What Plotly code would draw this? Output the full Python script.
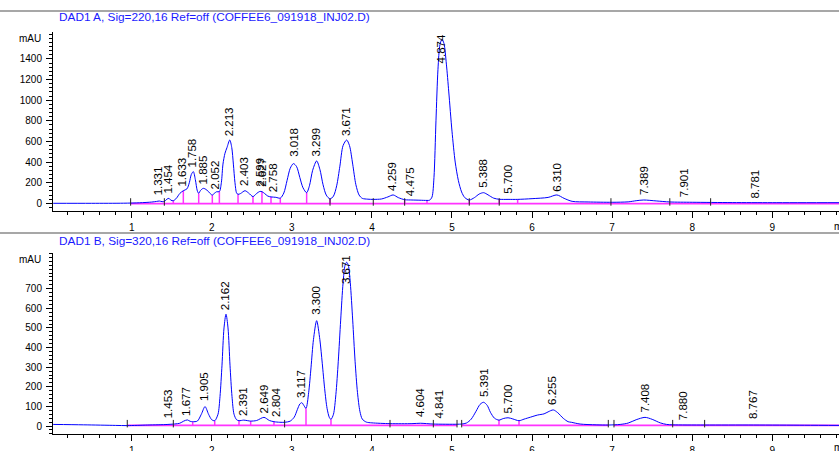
import plotly.graph_objects as go

W, H = 839, 451

# ---------------- DAD1 A, Sig=220 nm ----------------
a_time = [0.02, 0.50, 0.90, 1.10, 1.25, 1.31, 1.345, 1.38, 1.41, 1.44, 1.465, 1.49, 1.52, 1.56, 1.60,
          1.645, 1.69, 1.72, 1.745, 1.77, 1.795, 1.82, 1.837, 1.86, 1.895, 1.94, 1.98, 2.007, 2.03,
          2.06, 2.095, 2.12, 2.14, 2.165, 2.19, 2.225, 2.25, 2.27, 2.29, 2.31, 2.328, 2.36, 2.415,
          2.46, 2.515, 2.56, 2.60, 2.627, 2.66, 2.70, 2.74, 2.80, 2.856, 2.90, 2.94, 2.98, 3.02,
          3.06, 3.10, 3.14, 3.185, 3.22, 3.26, 3.31, 3.35, 3.39, 3.43, 3.477, 3.52, 3.56, 3.60,
          3.64, 3.685, 3.72, 3.76, 3.80, 3.84, 3.88, 3.95, 4.017, 4.12, 4.20, 4.265, 4.33, 4.409,
          4.50, 4.60, 4.688, 4.72, 4.75, 4.775, 4.80, 4.825, 4.85, 4.875, 4.90, 4.93, 4.96, 5.00,
          5.04, 5.08, 5.12, 5.16, 5.216, 5.28, 5.34, 5.395, 5.45, 5.52, 5.59, 5.70, 5.82, 6.00,
          6.20, 6.31, 6.40, 6.50, 6.70, 7.00, 7.20, 7.30, 7.395, 7.55, 7.72, 8.00, 8.50, 9.00, 9.85]
a_mau = [0, 0, 1, 5, 12, 18, 22, 16, 18, 40, 48, 30, 25, 50, 95,
         122, 140, 200, 280, 307, 230, 120, 97, 125, 145, 128, 95, 80, 95,
         112, 113, 200, 380, 485, 540, 614, 540, 380, 200, 100, 87, 95, 122,
         100, 65, 95, 115, 113, 95, 70, 62, 58, 50, 100, 220, 340, 385,
         355, 250, 150, 103, 170, 320, 411, 330, 180, 80, 42, 70, 170, 360,
         560, 614, 560, 380, 180, 80, 48, 40, 38, 42, 62, 81, 55, 35,
         32, 30, 28, 30, 60, 250, 800, 1300, 1540, 1590, 1550, 1350, 1080, 700,
         400, 220, 110, 55, 32, 55, 90, 103, 82, 50, 39, 38, 38, 45,
         57, 81, 48, 19, 13, 10, 14, 25, 32, 23, 13, 10, 7, 6, 6]

a_peak_rt = [1.331, 1.454, 1.633, 1.758, 1.885, 2.052, 2.213, 2.403, 2.599, 2.627, 2.758, 3.018,
             3.299, 3.671, 4.259, 4.475, 4.874, 5.388, 5.700, 6.310, 7.389, 7.901, 8.781]
a_peak_lbl = ["1.331", "1.454", "1.633", "1.758", "1.885", "2.052", "2.213", "2.403", "2.599", "2.627",
              "2.758", "3.018", "3.299", "3.671", "4.259", "4.475", "4.874", "5.388", "5.700", "6.310",
              "7.389", "7.901", "8.781"]
a_peak_h = [35, 51, 122, 307, 145, 100, 614, 125, 125, 125, 68, 410,
            417, 614, 83, 35, 1590, 107, 50, 76, 40, 19, 10]

a_drop_t = [1.52, 1.645, 1.837, 2.007, 2.095, 2.328, 2.515, 2.627, 2.74, 2.856, 3.185, 3.477,
            4.409, 4.688, 5.216, 5.59, 5.82]
a_drop_h = [25, 122, 97, 80, 113, 87, 65, 113, 62, 50, 103, 42, 35, 28, 32, 39, 38]
a_event_t = [0.987, 1.408, 3.477, 4.017, 4.409, 5.216, 5.59, 6.985, 7.72, 8.23]
a_base_seg = [(0.987, 9.85)]
a_base_level = -4
a_yticks = [0, 200, 400, 600, 800, 1000, 1200, 1400]

# ---------------- DAD1 B, Sig=320 nm ----------------
b_time = [0.02, 0.40, 0.80, 0.945, 1.20, 1.453, 1.60, 1.65, 1.695, 1.73, 1.762, 1.82, 1.87, 1.916,
          1.96, 2.00, 2.037, 2.078, 2.103, 2.128, 2.153, 2.178, 2.203, 2.228, 2.253, 2.278, 2.31,
          2.34, 2.40, 2.45, 2.486, 2.56, 2.652, 2.72, 2.777, 2.85, 2.91, 2.98, 3.03, 3.07, 3.10,
          3.125, 3.15, 3.177, 3.21, 3.24, 3.27, 3.31, 3.35, 3.38, 3.41, 3.44, 3.47, 3.489, 3.52,
          3.55, 3.58, 3.61, 3.64, 3.665, 3.685, 3.705, 3.73, 3.76, 3.79, 3.82, 3.85, 3.88, 3.93,
          4.00, 4.226, 4.50, 4.604, 4.767, 5.063, 5.121, 5.18, 5.24, 5.30, 5.35, 5.395, 5.44, 5.48,
          5.53, 5.587, 5.64, 5.70, 5.76, 5.837, 5.90, 5.98, 6.07, 6.15, 6.20, 6.265, 6.32, 6.39,
          6.45, 6.49, 6.60, 6.80, 6.952, 7.10, 7.20, 7.30, 7.41, 7.50, 7.60, 7.68, 7.756, 8.155,
          8.767, 9.40, 9.85]
b_mau = [8, 6, 3, 2, 5, 8, 14, 25, 31, 24, 22, 25, 60, 99,
         60, 32, 27, 60, 150, 310, 500, 570, 500, 310, 150, 60, 32,
         27, 30, 27, 25, 28, 44, 28, 22, 19, 19, 25, 45, 85, 112,
         119, 105, 90, 170, 300, 440, 537, 440, 320, 190, 90, 42, 34, 60,
         160, 330, 540, 730, 820, 835, 820, 730, 540, 330, 170, 75, 35, 20,
         16, 12, 12, 14, 10, 9, 10, 15, 35, 75, 110, 121, 105, 70,
         40, 30, 38, 42, 36, 27, 35, 45, 56, 62, 72, 82, 68, 39,
         22, 19, 10, 6, 5, 8, 15, 32, 44, 34, 16, 8, 6, 5,
         5, 4, 3]

b_peak_rt = [1.453, 1.677, 1.905, 2.162, 2.391, 2.649, 2.804, 3.117, 3.300, 3.671, 4.604, 4.841,
             5.391, 5.700, 6.255, 7.408, 7.880, 8.767]
b_peak_lbl = ["1.453", "1.677", "1.905", "2.162", "2.391", "2.649", "2.804", "3.117", "3.300", "3.671",
              "4.604", "4.841", "5.391", "5.700", "6.255", "7.408", "7.880", "8.767"]
b_peak_h = [21, 33, 105, 571, 28, 45, 24, 123, 548, 835, 24, 16, 126, 41, 87, 50, 10, 16]

b_drop_t = [1.762, 2.037, 2.34, 2.486, 2.777, 3.177, 3.489, 5.587, 5.837]
b_drop_h = [22, 27, 27, 25, 22, 90, 34, 30, 27]
b_event_t = [0.945, 1.52, 2.91, 4.226, 4.767, 5.063, 5.121, 6.952, 7.023, 7.756, 8.155]
b_base_seg = [(0.945, 5.063), (5.121, 6.952), (7.023, 9.85)]
b_base_level = 3
b_yticks = [0, 100, 200, 300, 400, 500, 600, 700]

titles = ["DAD1 A, Sig=220,16 Ref=off (COFFEE6_091918_INJ02.D)",
          "DAD1 B, Sig=320,16 Ref=off (COFFEE6_091918_INJ02.D)"]
x_ticks = [1, 2, 3, 4, 5, 6, 7, 8, 9]

# ---------------- layout geometry (pixels) ----------------
FONT = "Arial, 'Liberation Sans', sans-serif"
X_RANGE = [0.0175, 9.833]
X_DOMAIN = [53 / W, 1.0]
panels = [
    dict(yr=[-74.7, 1661.6], dom=[1 - 211 / H, 1 - 32 / H], minor=40, title_py=17, mau_py=38.5,
         sep_py=11, min_py=226),
    dict(yr=[-42.3, 882.0], dom=[1 - 434.3 / H, 1 - 253 / H], minor=20, title_py=241, mau_py=259,
         sep_py=233, min_py=447.7),
]

BLUE = "#0000ff"
MAG = "#ff33ff"

fig = go.Figure()
annotations = []
shapes = []

data = [
    (a_time, a_mau, a_peak_rt, a_peak_lbl, a_peak_h, a_drop_t, a_drop_h, a_event_t, a_base_seg, a_base_level, a_yticks),
    (b_time, b_mau, b_peak_rt, b_peak_lbl, b_peak_h, b_drop_t, b_drop_h, b_event_t, b_base_seg, b_base_level, b_yticks),
]

for i, (t, v, prt, plbl, ph, dt, dh, et, segs, blev, yticks) in enumerate(data):
    p = panels[i]
    xa = "x" if i == 0 else "x2"
    ya = "y" if i == 0 else "y2"
    upp = (p["yr"][1] - p["yr"][0]) / ((p["dom"][1] - p["dom"][0]) * H)  # data units per pixel

    # baseline segments
    bx, by = [], []
    for s0, s1 in segs:
        bx += [s0, s1, None]
        by += [blev, blev, None]
    fig.add_trace(go.Scatter(x=bx, y=by, mode="lines", line=dict(color=MAG, width=1.8),
                             xaxis=xa, yaxis=ya, hoverinfo="skip"))
    # drop lines
    dx, dy = [], []
    for tt, hh in zip(dt, dh):
        dx += [tt, tt, None]
        dy += [blev, hh, None]
    fig.add_trace(go.Scatter(x=dx, y=dy, mode="lines", line=dict(color=MAG, width=1.5),
                             xaxis=xa, yaxis=ya, hoverinfo="skip"))
    # signal
    fig.add_trace(go.Scatter(x=t, y=v, mode="lines", line=dict(color=BLUE, width=1, shape="spline", smoothing=0.8),
                             xaxis=xa, yaxis=ya, hoverinfo="skip"))
    # integration event ticks
    ex, ey = [], []
    for tt in et:
        ex += [tt, tt, None]
        ey += [blev - 2 * upp, blev + 5.5 * upp, None]
    fig.add_trace(go.Scatter(x=ex, y=ey, mode="lines", line=dict(color="#222222", width=1),
                             xaxis=xa, yaxis=ya, hoverinfo="skip"))

    # peak labels
    label_px = 31
    for rt, lbl, hh in zip(prt, plbl, ph):
        if hh + (label_px + 3) * upp > p["yr"][1]:
            annotations.append(dict(x=rt, y=p["yr"][1], xref=xa, yref=ya, text=lbl, showarrow=False,
                                    textangle=-90, xanchor="center", yanchor="top",
                                    font=dict(family=FONT, size=11.5, color="black")))
        else:
            annotations.append(dict(x=rt, y=hh, xref=xa, yref=ya, text=lbl, showarrow=False,
                                    textangle=-90, xanchor="center", yanchor="bottom", yshift=2,
                                    font=dict(family=FONT, size=11.5, color="black")))

    # title, unit label, "min"
    annotations.append(dict(x=57 / W, y=1 - p["title_py"] / H, xref="paper", yref="paper", text=titles[i],
                            showarrow=False, xanchor="left", yanchor="middle",
                            font=dict(family=FONT, size=11.8, color="#1a1aff")))
    annotations.append(dict(x=43 / W, y=1 - p["mau_py"] / H, xref="paper", yref="paper", text="mAU",
                            showarrow=False, xanchor="right", yanchor="middle",
                            font=dict(family=FONT, size=10, color="black")))
    annotations.append(dict(x=832 / W, y=1 - p["min_py"] / H, xref="paper", yref="paper", text="min",
                            showarrow=False, xanchor="left", yanchor="middle",
                            font=dict(family=FONT, size=10, color="black")))
    shapes.append(dict(type="line", xref="paper", yref="paper", x0=0, x1=1,
                       y0=1 - p["sep_py"] / H, y1=1 - p["sep_py"] / H,
                       line=dict(color="#8a8a8a", width=1.5)))

    xkey = "xaxis" if i == 0 else "xaxis2"
    ykey = "yaxis" if i == 0 else "yaxis2"
    fig.layout[xkey] = dict(domain=X_DOMAIN, range=X_RANGE, anchor=ya, showline=True, linecolor="black",
                            linewidth=1, ticks="outside", ticklen=6, tickcolor="black", tickwidth=1,
                            tickmode="array", tickvals=x_ticks, ticktext=[str(k) for k in x_ticks],
                            showgrid=False, zeroline=False, ticklabelstandoff=1, automargin=False,
                            minor=dict(dtick=0.2, tick0=0, ticks="outside", ticklen=3, tickcolor="black",
                                       showgrid=False),
                            tickfont=dict(family=FONT, size=10, color="black"), fixedrange=True)
    fig.layout[ykey] = dict(domain=p["dom"], range=p["yr"], anchor=xa, showline=True, linecolor="black",
                            linewidth=1, ticks="outside", ticklen=6, tickcolor="black", tickwidth=1,
                            tickmode="array", tickvals=yticks, ticktext=[str(k) for k in yticks],
                            showgrid=False, zeroline=False, ticklabelstandoff=2, automargin=False,
                            minor=dict(dtick=p["minor"], tick0=0, ticks="outside", ticklen=3,
                                       tickcolor="black", showgrid=False),
                            tickfont=dict(family=FONT, size=10, color="black"), fixedrange=True)

fig.update_layout(width=W, height=H, margin=dict(l=0, r=0, t=0, b=0, pad=0, autoexpand=False),
                  paper_bgcolor="white",
                  plot_bgcolor="white", showlegend=False, annotations=annotations, shapes=shapes,
                  font=dict(family=FONT))

fig.write_html("out.html", config={"displayModeBar": False},
               post_script="document.body.style.margin='0';document.body.style.overflow='hidden';")
